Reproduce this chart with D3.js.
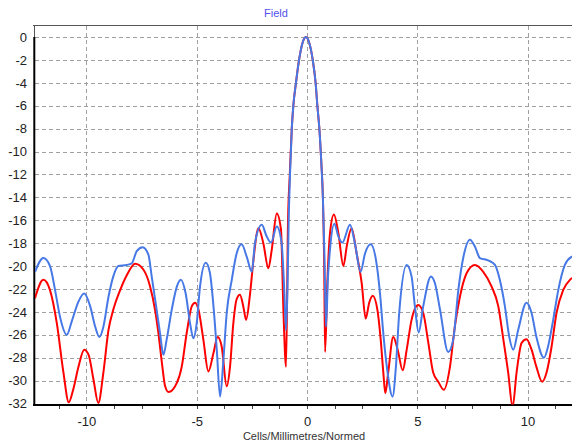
<!DOCTYPE html>
<html>
<head>
<meta charset="utf-8">
<script src="https://cdn.jsdelivr.net/npm/d3@7"></script>
<style>
	html, body { margin: 0; padding: 0; background: #fff; }
	svg { display: block; font-family: "Liberation Sans", Arial, sans-serif; }
</style>
</head>
<body>
<div id="chart"></div>
<script>
// configure chart
const width = 572
const height = 448

// tick values
const xTicks = [-10, -5, 0, 5, 10]
const xMinorTicks = [-11.25, -10, -8.75, -7.5, -6.25, -5, -3.75, -2.5, -1.25, 0, 1.25, 2.5, 3.75, 5, 6.25, 7.5, 8.75, 10, 11.25]
const yTicks = [0, -2, -4, -6, -8, -10, -12, -14, -16, -18, -20, -22, -24, -26, -28, -30, -32]

// series: [position, level]
const redSeries = [
	[-12.33, -22.8], [-11.95, -21.2], [-11.65, -22.1], [-11.34, -25.0], [-11.04, -29.3],
	[-10.8, -31.9], [-10.6, -30.8], [-10.36, -28.8], [-10.1, -27.3], [-9.9, -27.75],
	[-9.68, -29.9], [-9.46, -31.95], [-9.23, -29.3], [-9.0, -25.6], [-8.78, -23.8],
	[-8.47, -22.1], [-8.17, -20.8], [-7.79, -19.8], [-7.42, -20.3], [-7.11, -21.8],
	[-6.89, -23.8], [-6.74, -25.8], [-6.58, -28.4], [-6.43, -30.5], [-6.28, -31.0],
	[-5.9, -30.2], [-5.68, -28.8], [-5.45, -25.8], [-5.22, -23.5], [-5.07, -23.2],
	[-4.92, -23.8], [-4.7, -26.4], [-4.47, -29.2], [-4.24, -27.6], [-4.05, -26.2],
	[-3.87, -27.0], [-3.64, -30.5], [-3.49, -28.8], [-3.34, -25.0], [-3.19, -22.9],
	[-3.04, -22.5], [-2.89, -23.5], [-2.76, -24.7], [-2.58, -22.4], [-2.43, -19.5],
	[-2.2, -16.7], [-1.98, -18.0], [-1.75, -20.2], [-1.6, -18.6], [-1.37, -15.4],
	[-1.18, -16.8], [-1.07, -23.8], [-0.95, -28.8], [-0.86, -16], [-0.78, -12],
	[-0.69, -8], [-0.62, -6], [-0.5, -4], [-0.36, -2], [-0.2, -0.5],
	[-0.05, 0], [0.1, -0.5], [0.26, -2], [0.39, -4], [0.47, -6],
	[0.56, -8], [0.65, -11], [0.72, -14], [0.78, -20], [0.82, -27.5],
	[0.93, -21], [1.05, -17], [1.22, -15.5], [1.42, -17.1], [1.65, -20],
	[1.8, -18.3], [2.02, -16.7], [2.25, -18.9], [2.48, -21.5], [2.66, -24.6],
	[2.82, -23.2], [2.98, -22.6], [3.19, -23.8], [3.34, -26.4], [3.46, -29.3],
	[3.55, -31.1], [3.68, -29.3], [3.91, -26.2], [4.11, -27.3], [4.34, -29.1],
	[4.52, -27.3], [4.74, -24.7], [5.04, -23.4], [5.27, -24.1], [5.5, -26.7],
	[5.72, -29.3], [5.95, -30.1], [6.2, -30.8], [6.48, -28.8], [6.7, -25.3],
	[6.93, -22.7], [7.24, -20.6], [7.61, -19.9], [7.99, -20.5], [8.37, -21.8],
	[8.67, -23.5], [8.9, -26.4], [9.12, -29.3], [9.32, -32.3], [9.5, -29.3],
	[9.73, -26.7], [9.95, -26.4], [10.18, -27.3], [10.4, -28.8], [10.66, -30.1],
	[10.86, -29.3], [11.09, -27.0], [11.31, -24.1], [11.61, -22.1], [11.92, -21.2],
	[12.33, -20.8]
]

const blueSeries = [
	[-12.33, -20.5], [-11.95, -19.3], [-11.65, -20.0], [-11.42, -22.1], [-11.2, -24.4],
	[-10.89, -26.0], [-10.66, -24.8], [-10.36, -23.1], [-10.1, -22.4], [-9.83, -23.5],
	[-9.6, -25.3], [-9.41, -26.2], [-9.23, -25.3], [-9.0, -22.7], [-8.78, -20.9],
	[-8.55, -20.0], [-8.17, -19.9], [-7.94, -19.75], [-7.72, -18.7], [-7.45, -18.35],
	[-7.19, -19.0], [-7.04, -20.9], [-6.84, -23.5], [-6.66, -25.9], [-6.51, -27.75],
	[-6.36, -26.4], [-6.13, -23.8], [-5.9, -21.8], [-5.72, -21.2], [-5.5, -22.4],
	[-5.3, -25.0], [-5.15, -26.3], [-5.0, -25.0], [-4.85, -21.8], [-4.59, -19.7],
	[-4.4, -20.6], [-4.24, -23.5], [-4.09, -27.3], [-3.94, -31.4], [-3.79, -28.2],
	[-3.64, -24.1], [-3.41, -21.2], [-3.19, -18.9], [-2.96, -18.1], [-2.73, -19.2],
	[-2.5, -20.5], [-2.36, -18.0], [-2.05, -16.4], [-1.83, -17.4], [-1.63, -17.95],
	[-1.37, -16.55], [-1.15, -18.0], [-1.03, -22.1], [-0.95, -25.6], [-0.88, -21.5],
	[-0.83, -16], [-0.77, -12], [-0.69, -8], [-0.62, -6], [-0.5, -4],
	[-0.36, -2], [-0.2, -0.5], [-0.05, 0], [0.1, -0.5], [0.26, -2],
	[0.39, -4], [0.47, -6], [0.56, -8], [0.65, -11], [0.72, -14],
	[0.79, -19], [0.86, -25.3], [0.95, -21], [1.04, -18.6], [1.24, -16.3],
	[1.42, -17.4], [1.6, -17.95], [1.95, -16.4], [2.17, -18.0], [2.43, -20.5],
	[2.63, -18.9], [2.89, -18.1], [3.13, -19.5], [3.31, -22.4], [3.46, -25.9],
	[3.64, -29.1], [3.88, -31.4], [4.03, -28.8], [4.18, -24.1], [4.52, -19.9],
	[4.74, -20.9], [4.89, -23.5], [5.06, -25.8], [5.27, -23.5], [5.62, -20.9],
	[5.8, -21.5], [6.03, -23.8], [6.4, -27.5], [6.63, -26.4], [6.86, -22.1],
	[7.08, -19.3], [7.39, -17.7], [7.61, -18.3], [7.84, -19.3], [8.21, -19.5],
	[8.52, -19.9], [8.74, -21.2], [8.97, -23.5], [9.17, -26.2], [9.35, -27.3],
	[9.57, -25.6], [9.95, -23.2], [10.18, -24.1], [10.4, -26.2], [10.74, -28.0],
	[10.93, -27.0], [11.16, -24.7], [11.39, -22.1], [11.69, -19.9], [11.99, -19.2],
	[12.33, -19.0]
]

window.onload = function(){
	var svg = d3.select('#chart').append('svg')
		.attr('width', width)
		.attr('height', height);

	// plot area runs a little past the right edge of the window
	var x = d3.scaleLinear().domain([-12.33, 12.33]).range([35, 579]);
	var y = d3.scaleLinear().domain([-32, 1.05]).range([403.5, 25]);

	// title
	svg.append('text')
		.attr('x', 276).attr('y', 17)
		.attr('text-anchor', 'middle')
		.attr('font-size', 11)
		.attr('fill', '#5050ee')
		.text('Field');

	// dashed grid
	var grid = svg.append('g').attr('id', 'grid')
		.attr('stroke', '#a0a0a0')
		.attr('stroke-dasharray', '4,3')
		.attr('shape-rendering', 'crispEdges');
	grid.selectAll('line.h').data(yTicks).enter().append('line')
		.attr('class', 'h')
		.attr('x1', 35).attr('x2', 579)
		.attr('y1', function(d){ return Math.round(y(d)) + 0.5; })
		.attr('y2', function(d){ return Math.round(y(d)) + 0.5; });
	grid.selectAll('line.v').data(xTicks).enter().append('line')
		.attr('class', 'v')
		.attr('y1', 26).attr('y2', 404)
		.attr('x1', function(d){ return Math.round(x(d)) + 0.5; })
		.attr('x2', function(d){ return Math.round(x(d)) + 0.5; });

	// frame: thin top edge, thick axis lines
	svg.append('line')
		.attr('x1', 33).attr('x2', 579).attr('y1', 25.5).attr('y2', 25.5)
		.attr('stroke', '#555');
	svg.append('line')
		.attr('x1', 34.5).attr('x2', 34.5).attr('y1', 25).attr('y2', y(0))
		.attr('stroke', '#555');
	svg.append('line')
		.attr('x1', 34.3).attr('x2', 34.3).attr('y1', y(0)).attr('y2', 406)
		.attr('stroke', '#000').attr('stroke-width', 2);
	svg.append('line')
		.attr('x1', 33).attr('x2', 579).attr('y1', 405).attr('y2', 405)
		.attr('stroke', '#000').attr('stroke-width', 2);

	// minor ticks under the bottom axis
	svg.append('g').selectAll('line').data(xMinorTicks).enter().append('line')
		.attr('x1', function(d){ return Math.round(x(d)) + 0.5; })
		.attr('x2', function(d){ return Math.round(x(d)) + 0.5; })
		.attr('y1', 406).attr('y2', 409)
		.attr('stroke', '#444');

	// tick labels through the library's axes, without their own lines
	var xAxis = svg.append('g')
		.attr('transform', 'translate(0,406)')
		.call(d3.axisBottom(x).tickValues(xTicks).tickSize(0).tickPadding(11)
			.tickFormat(function(d){ return String(d); }));
	var yAxis = svg.append('g')
		.attr('transform', 'translate(35,0)')
		.call(d3.axisLeft(y).tickValues(yTicks).tickSize(0).tickPadding(8)
			.tickFormat(function(d){ return String(d); }));
	[xAxis, yAxis].forEach(function(a){
		a.select('.domain').remove();
		a.selectAll('text')
			.attr('font-size', 13)
			.attr('font-family', '"Liberation Sans", Arial, sans-serif')
			.attr('fill', '#222');
	});

	// axis title
	svg.append('text')
		.attr('x', 304).attr('y', 440)
		.attr('text-anchor', 'middle')
		.attr('font-size', 11)
		.attr('fill', '#333')
		.text('Cells/Millimetres/Normed');

	// clip the curves to the plot area
	svg.append('clipPath').attr('id', 'plotClip')
		.append('rect').attr('x', 35).attr('y', 25).attr('width', 544).attr('height', 379.5);

	var line = d3.line()
		.x(function(d){ return x(d[0]); })
		.y(function(d){ return y(d[1]); })
		.curve(d3.curveMonotoneX);

	var curves = svg.append('g').attr('clip-path', 'url(#plotClip)')
		.attr('fill', 'none')
		.attr('stroke-width', 2)
		.attr('stroke-linejoin', 'round');
	curves.append('path').datum(redSeries)
		.attr('stroke', '#ff0000')
		.attr('d', line);
	curves.append('path').datum(blueSeries)
		.attr('stroke', '#4678e6')
		.attr('d', line);
}
</script>
</body>
</html>
